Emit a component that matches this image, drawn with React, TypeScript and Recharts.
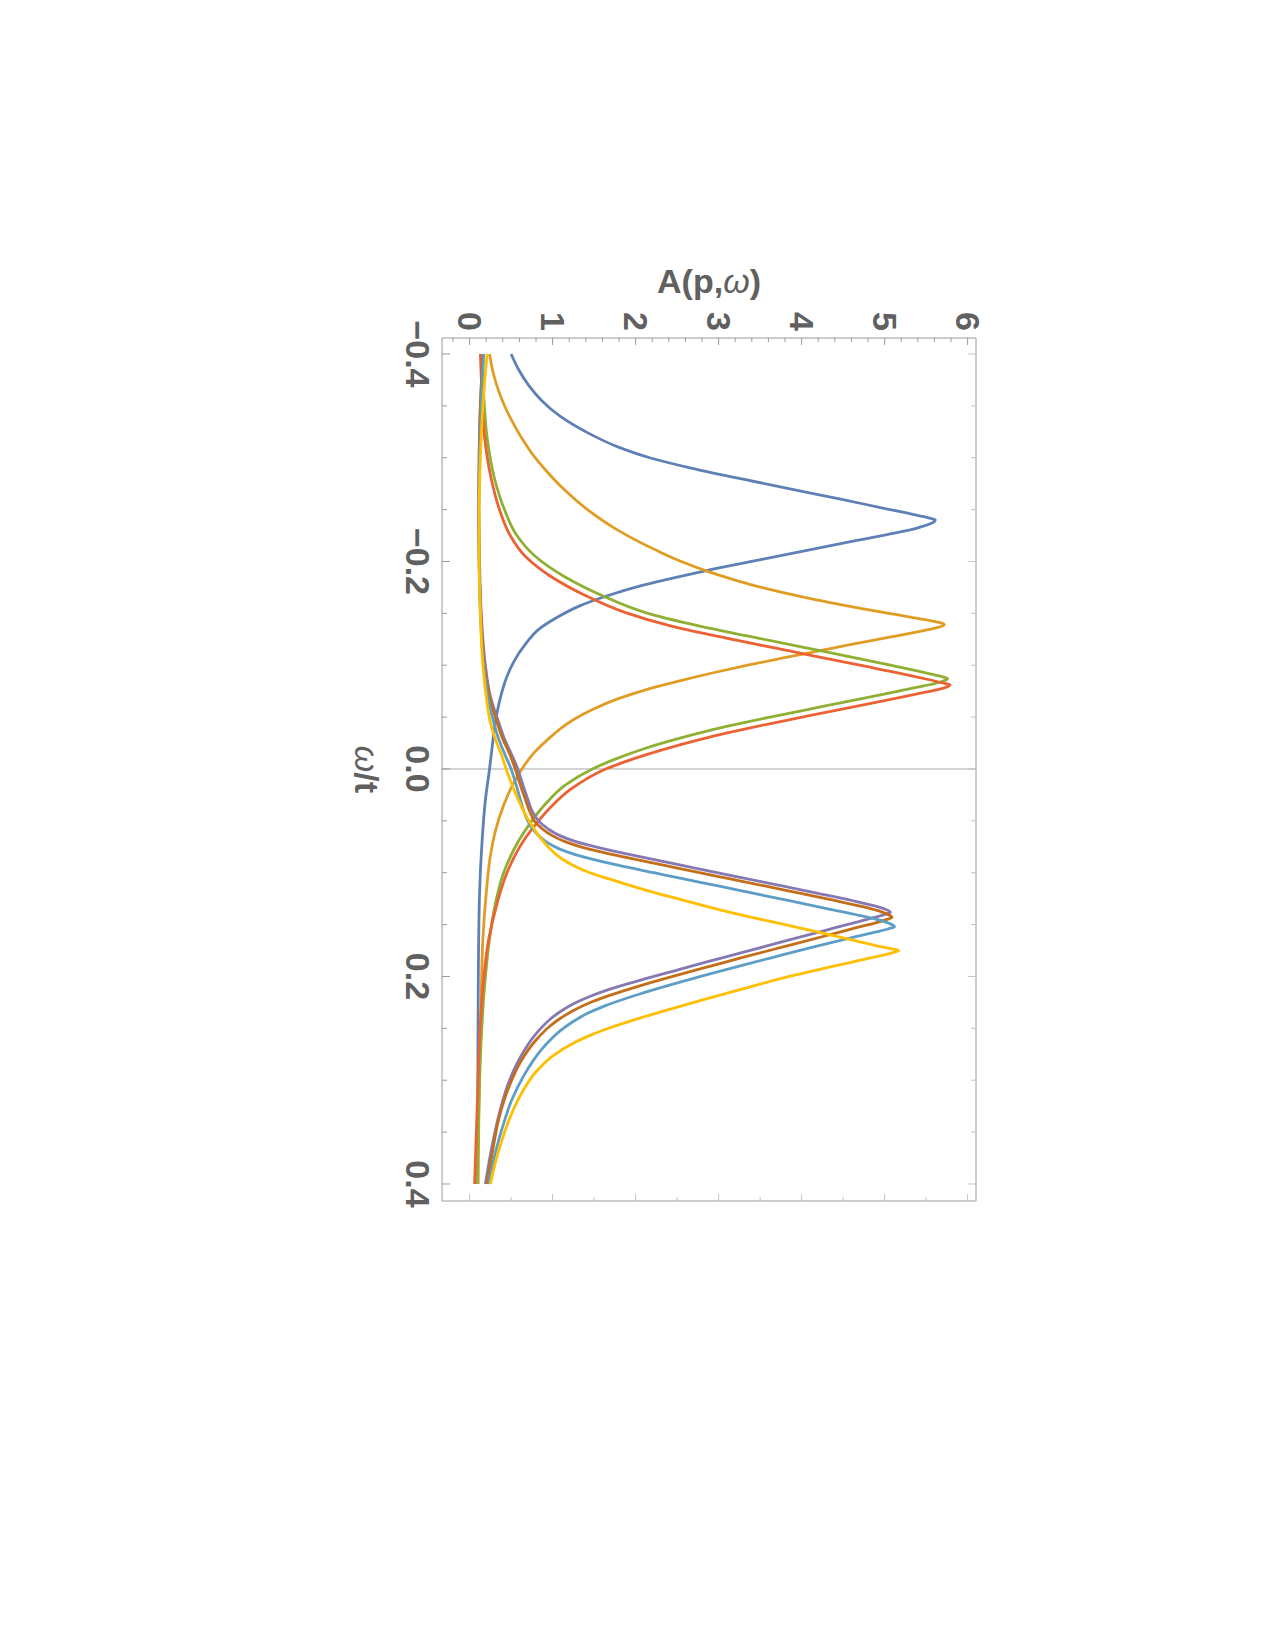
import React from 'react';
import { LineChart, Line, XAxis, YAxis, ReferenceLine } from 'recharts';

type Pt = [number, number];

// ω/t , A(p,ω) pairs
const blue: Pt[] = [
  [-0.4, 0.5], [-0.385, 0.59], [-0.37, 0.71], [-0.355, 0.87], [-0.34, 1.09], [-0.325, 1.4], [-0.31, 1.8],
  [-0.3, 2.17], [-0.29, 2.67], [-0.28, 3.25], [-0.27, 3.86], [-0.26, 4.47], [-0.252, 4.95], [-0.247, 5.25],
  [-0.244, 5.42], [-0.242, 5.53], [-0.24, 5.61], [-0.237, 5.57], [-0.232, 5.38], [-0.226, 5.03], [-0.22, 4.65],
  [-0.212, 4.14], [-0.202, 3.52], [-0.193, 2.96], [-0.185, 2.5], [-0.177, 2.08], [-0.167, 1.66], [-0.157, 1.32],
  [-0.145, 1.03], [-0.135, 0.84], [-0.12, 0.67], [-0.103, 0.53], [-0.087, 0.44], [-0.07, 0.375], [-0.045, 0.31],
  [-0.02, 0.27], [0.0, 0.24], [0.03, 0.19], [0.07, 0.15], [0.12, 0.12], [0.2, 0.105], [0.3, 0.1], [0.4, 0.1],
];

const orange: Pt[] = [
  [-0.4, 0.24], [-0.38, 0.29], [-0.36, 0.37], [-0.34, 0.48], [-0.32, 0.62], [-0.3, 0.79], [-0.285, 0.95],
  [-0.27, 1.13], [-0.25, 1.42], [-0.23, 1.79], [-0.21, 2.27], [-0.2, 2.55], [-0.191, 2.85], [-0.183, 3.16],
  [-0.177, 3.42], [-0.17, 3.78], [-0.164, 4.12], [-0.158, 4.5], [-0.154, 4.76], [-0.15, 5.05], [-0.146, 5.34],
  [-0.143, 5.55], [-0.141, 5.67], [-0.139, 5.72], [-0.136, 5.62], [-0.132, 5.38], [-0.127, 5.06], [-0.12, 4.6],
  [-0.114, 4.22], [-0.107, 3.78], [-0.1, 3.35], [-0.093, 2.95], [-0.085, 2.53], [-0.077, 2.15], [-0.068, 1.8],
  [-0.058, 1.5], [-0.047, 1.24], [-0.038, 1.08], [-0.029, 0.95], [-0.015, 0.77], [0.0, 0.63], [0.015, 0.52],
  [0.035, 0.41], [0.06, 0.31], [0.084, 0.25], [0.12, 0.2], [0.164, 0.16], [0.22, 0.14], [0.29, 0.12], [0.4, 0.1],
];

const green: Pt[] = [
  [-0.4, 0.15], [-0.36, 0.17], [-0.32, 0.21], [-0.28, 0.3], [-0.25, 0.42], [-0.225, 0.57], [-0.205, 0.79],
  [-0.186, 1.13], [-0.167, 1.6], [-0.151, 2.11], [-0.138, 2.76], [-0.128, 3.36], [-0.114, 4.22], [-0.1, 5.07],
  [-0.094, 5.42], [-0.09, 5.64], [-0.087, 5.76], [-0.084, 5.68], [-0.08, 5.47], [-0.075, 5.17], [-0.068, 4.74],
  [-0.06, 4.24], [-0.052, 3.74], [-0.045, 3.32], [-0.038, 2.93], [-0.029, 2.5], [-0.02, 2.12], [-0.01, 1.77],
  [0.0, 1.48], [0.015, 1.16], [0.035, 0.9], [0.05, 0.75], [0.068, 0.6], [0.1, 0.41], [0.13, 0.31], [0.164, 0.24],
  [0.21, 0.18], [0.26, 0.14], [0.33, 0.11], [0.4, 0.09],
];

const red: Pt[] = [
  [-0.4, 0.13], [-0.36, 0.15], [-0.32, 0.18], [-0.28, 0.26], [-0.25, 0.36], [-0.225, 0.49], [-0.205, 0.67],
  [-0.186, 0.97], [-0.167, 1.4], [-0.151, 1.87], [-0.138, 2.42], [-0.128, 2.98], [-0.114, 3.84], [-0.1, 4.7],
  [-0.092, 5.2], [-0.086, 5.54], [-0.083, 5.7], [-0.081, 5.79], [-0.078, 5.71], [-0.074, 5.49], [-0.069, 5.19],
  [-0.062, 4.76], [-0.054, 4.26], [-0.046, 3.76], [-0.039, 3.34], [-0.032, 2.95], [-0.023, 2.52], [-0.014, 2.14],
  [-0.004, 1.77], [0.0, 1.64], [0.01, 1.4], [0.02, 1.21], [0.035, 1.0], [0.05, 0.83], [0.068, 0.66], [0.1, 0.45],
  [0.13, 0.33], [0.164, 0.23], [0.21, 0.16], [0.26, 0.12], [0.33, 0.09], [0.4, 0.06],
];

const purple: Pt[] = [
  [-0.4, 0.16], [-0.35, 0.13], [-0.3, 0.115], [-0.25, 0.11], [-0.2, 0.12], [-0.15, 0.14], [-0.1, 0.19],
  [-0.07, 0.25], [-0.045, 0.35], [-0.029, 0.42], [-0.015, 0.5], [0.0, 0.58], [0.015, 0.64], [0.029, 0.7],
  [0.04, 0.75], [0.05, 0.83], [0.058, 0.95], [0.064, 1.08], [0.07, 1.28], [0.077, 1.62], [0.085, 2.08],
  [0.093, 2.56], [0.1, 2.98], [0.106, 3.35], [0.113, 3.78], [0.119, 4.14], [0.127, 4.62], [0.132, 4.88],
  [0.135, 5.0], [0.138, 5.07], [0.14, 5.01], [0.143, 4.88], [0.148, 4.64], [0.155, 4.31], [0.165, 3.84],
  [0.1768, 3.29], [0.1855, 2.88], [0.1945, 2.47], [0.2026, 2.1], [0.2122, 1.69], [0.2195, 1.44], [0.2267, 1.24],
  [0.234, 1.09], [0.2412, 0.97], [0.2573, 0.78], [0.2767, 0.62], [0.3024, 0.47], [0.3314, 0.36], [0.3636, 0.27],
  [0.4, 0.19],
];

const brown: Pt[] = [
  [-0.4, 0.16], [-0.35, 0.13], [-0.3, 0.115], [-0.25, 0.11], [-0.2, 0.115], [-0.15, 0.135], [-0.1, 0.18],
  [-0.07, 0.24], [-0.045, 0.33], [-0.029, 0.4], [-0.015, 0.48], [0.0, 0.55], [0.015, 0.61], [0.029, 0.67],
  [0.04, 0.72], [0.05, 0.78], [0.058, 0.88], [0.064, 0.99], [0.07, 1.15], [0.077, 1.43], [0.085, 1.87],
  [0.093, 2.35], [0.1, 2.77], [0.106, 3.14], [0.113, 3.57], [0.119, 3.93], [0.127, 4.41], [0.133, 4.75],
  [0.138, 4.97], [0.141, 5.06], [0.143, 5.09], [0.145, 5.03], [0.148, 4.9], [0.153, 4.66], [0.161, 4.28],
  [0.171, 3.8], [0.1816, 3.29], [0.1905, 2.88], [0.1994, 2.47], [0.209, 2.05], [0.2187, 1.67], [0.2255, 1.44],
  [0.2332, 1.24], [0.2405, 1.09], [0.2477, 0.97], [0.2622, 0.79], [0.2815, 0.62], [0.3073, 0.47], [0.3346, 0.36],
  [0.3668, 0.28], [0.4, 0.21],
];

const lightBlue: Pt[] = [
  [-0.4, 0.17], [-0.35, 0.14], [-0.3, 0.12], [-0.25, 0.11], [-0.2, 0.115], [-0.15, 0.13], [-0.1, 0.17],
  [-0.07, 0.22], [-0.045, 0.29], [-0.029, 0.35], [-0.015, 0.42], [0.0, 0.5], [0.015, 0.56], [0.029, 0.61],
  [0.04, 0.65], [0.05, 0.7], [0.058, 0.76], [0.064, 0.83], [0.07, 0.92], [0.077, 1.08], [0.085, 1.38],
  [0.093, 1.8], [0.1, 2.22], [0.106, 2.58], [0.113, 3.01], [0.119, 3.37], [0.127, 3.85], [0.135, 4.33],
  [0.141, 4.69], [0.146, 4.95], [0.149, 5.06], [0.152, 5.12], [0.154, 5.05], [0.157, 4.9], [0.162, 4.63],
  [0.17, 4.22], [0.179, 3.78], [0.1897, 3.26], [0.1985, 2.85], [0.2074, 2.45], [0.2171, 2.04], [0.2283, 1.63],
  [0.236, 1.41], [0.2444, 1.23], [0.2525, 1.09], [0.2605, 0.98], [0.27, 0.87], [0.283, 0.75], [0.296, 0.65],
  [0.3185, 0.51], [0.3443, 0.4], [0.37, 0.31], [0.4, 0.23],
];

const yellow: Pt[] = [
  [-0.4, 0.21], [-0.35, 0.16], [-0.3, 0.13], [-0.25, 0.115], [-0.2, 0.115], [-0.15, 0.13], [-0.1, 0.16],
  [-0.07, 0.2], [-0.045, 0.25], [-0.029, 0.31], [-0.01, 0.4], [0.0, 0.44], [0.019, 0.53], [0.048, 0.7],
  [0.065, 0.84], [0.077, 0.97], [0.087, 1.12], [0.093, 1.25], [0.1, 1.45], [0.106, 1.68], [0.117, 2.13],
  [0.126, 2.55], [0.135, 2.98], [0.143, 3.4], [0.15, 3.8], [0.158, 4.24], [0.166, 4.67], [0.17, 4.88],
  [0.173, 5.06], [0.175, 5.17], [0.177, 5.1], [0.18, 4.95], [0.185, 4.67], [0.192, 4.28], [0.2, 3.85],
  [0.2122, 3.28], [0.2219, 2.84], [0.23, 2.48], [0.2396, 2.07], [0.2509, 1.64], [0.2575, 1.43], [0.2638, 1.26],
  [0.2767, 1.0], [0.2928, 0.79], [0.3121, 0.63], [0.3314, 0.51], [0.354, 0.405], [0.3765, 0.32], [0.4, 0.25],
];

const SERIES_NAMES = ['blue', 'orange', 'green', 'red', 'purple', 'brown', 'lightBlue', 'yellow'];
const SERIES_COLORS = ['#5E81B5', '#E19C24', '#8FB032', '#EB6235', '#8778B3', '#C56E1A', '#5D9EC7', '#FFBF00'];
const SERIES_POINTS = [blue, orange, green, red, purple, brown, lightBlue, yellow];

const W_TICKS = [-0.4, -0.35, -0.3, -0.25, -0.2, -0.15, -0.1, -0.05, 0, 0.05, 0.1, 0.15, 0.2, 0.25, 0.3, 0.35, 0.4];
const W_LABEL_VALUES = [-0.4, -0.2, 0, 0.2, 0.4];
const W_LABELS = ['\u22120.4', '\u22120.2', '0.0', '0.2', '0.4'];
const A_TICKS = [-0.2, 0, 0.2, 0.4, 0.6, 0.8, 1, 1.2, 1.4, 1.6, 1.8, 2, 2.2, 2.4, 2.6, 2.8, 3, 3.2, 3.4, 3.6, 3.8,
  4, 4.2, 4.4, 4.6, 4.8, 5, 5.2, 5.4, 5.6, 5.8, 6];
const A_LABEL_VALUES = [0, 1, 2, 3, 4, 5, 6];
const A_LABELS = ['0', '1', '2', '3', '4', '5', '6'];
const A_MIRROR_TICKS = [0, 0.5, 1, 1.5, 2, 2.5, 3, 3.5, 4, 4.5, 5, 5.5, 6];
const W_DOMAIN: [number, number] = [-0.4154, 0.4164];
const A_DOMAIN: [number, number] = [-0.3325, 6.101];

const CHART_W = 963;
const CHART_H = 654;
const PLOT_LEFT = 90;
const PLOT_TOP = 10;
const PLOT_W = 863;
const PLOT_H = 534;

const FONT = "'Liberation Sans', Arial, sans-serif";
const TEXT = '#606060';
const FRAME = '#9a9a9a';
const MIRROR = '#c2c2c2';
const FS = 34;

const near = (a: number, b: number) => Math.abs(a - b) < 1e-6;
const labelOf = (vals: number[], labels: string[], v: number) => {
  const i = vals.findIndex((t) => near(t, v));
  return i >= 0 ? labels[i] : null;
};

const WTick = (props: any) => {
  const { x, y, payload } = props;
  const lab = labelOf(W_LABEL_VALUES, W_LABELS, payload.value);
  const len = lab ? 8 : 5;
  return (
    <g>
      <line x1={x} y1={y} x2={x} y2={y - len} stroke={FRAME} strokeWidth={1} />
      {lab && (
        <text x={x} y={y + 36} textAnchor="middle" fontFamily={FONT} fontWeight="bold" fontSize={FS} fill={TEXT}>
          {lab}
        </text>
      )}
    </g>
  );
};

const WMirrorTick = (props: any) => {
  const { x, y, payload } = props;
  const major = labelOf(W_LABEL_VALUES, W_LABELS, payload.value) !== null;
  const len = major ? 8 : 5;
  return <line x1={x} y1={y} x2={x} y2={y + len} stroke={MIRROR} strokeWidth={1} />;
};

const ATick = (props: any) => {
  const { x, y, payload } = props;
  const lab = labelOf(A_LABEL_VALUES, A_LABELS, payload.value);
  const len = lab ? 7 : 4;
  return (
    <g>
      <line x1={x} y1={y} x2={x + len} y2={y} stroke={FRAME} strokeWidth={1} />
      {lab && (
        <text x={x - 7} y={y + 12} textAnchor="end" fontFamily={FONT} fontWeight="bold" fontSize={FS} fill={TEXT}>
          {lab}
        </text>
      )}
    </g>
  );
};

const AMirrorTick = (props: any) => {
  const { x, y, payload } = props;
  const major = Number.isInteger(Math.round(payload.value * 1000) / 1000);
  const len = major ? 7 : 4;
  return <line x1={x} y1={y} x2={x - len} y2={y} stroke={MIRROR} strokeWidth={1} />;
};

const XTitle = () => (
  <text x={PLOT_LEFT + PLOT_W / 2} y={PLOT_TOP + PLOT_H + 87} textAnchor="middle" fontFamily={FONT}
    fontWeight="bold" fontSize={FS} fill={TEXT}>
    <tspan fontStyle="italic" fontWeight="normal">ω</tspan>/t
  </text>
);

const YTitle = () => {
  const x0 = PLOT_LEFT - 45;
  const y0 = PLOT_TOP + PLOT_H / 2;
  return (
    <text x={x0} y={y0} transform={`rotate(-90, ${x0}, ${y0})`} textAnchor="middle" fontFamily={FONT}
      fontWeight="bold" fontSize={FS} fill={TEXT}>
      A(p,<tspan fontStyle="italic" fontWeight="normal">ω</tspan>)
    </text>
  );
};

export default function App() {
  return (
    <div style={{ position: 'relative', width: 1259, height: 1634, overflow: 'hidden', background: '#fff' }}>
      <div
        style={{
          position: 'absolute',
          left: 977.7,
          top: 240.3,
          width: CHART_W,
          height: CHART_H,
          transformOrigin: '0 0',
          transform: 'rotate(90deg)',
        }}
      >
        <LineChart width={CHART_W} height={CHART_H} margin={{ top: 9, right: 9, bottom: 10, left: 10 }}>
          <XAxis
            xAxisId="main"
            dataKey="w"
            type="number"
            domain={W_DOMAIN}
            allowDataOverflow
            ticks={W_TICKS}
            interval={0}
            tick={WTick}
            tickLine={false}
            tickSize={0}
            tickMargin={0}
            axisLine={{ stroke: FRAME, strokeWidth: 1 }}
            height={100}
            label={XTitle}
          />
          <XAxis
            xAxisId="mirror"
            orientation="top"
            dataKey="w"
            type="number"
            domain={W_DOMAIN}
            allowDataOverflow
            ticks={W_TICKS}
            interval={0}
            tick={WMirrorTick}
            tickLine={false}
            tickSize={0}
            tickMargin={0}
            axisLine={{ stroke: FRAME, strokeWidth: 1 }}
            height={1}
          />
          <YAxis
            yAxisId="main"
            type="number"
            domain={A_DOMAIN}
            allowDataOverflow
            ticks={A_TICKS}
            interval={0}
            tick={ATick}
            tickLine={false}
            tickSize={0}
            tickMargin={0}
            axisLine={{ stroke: FRAME, strokeWidth: 1 }}
            width={80}
            label={YTitle}
          />
          <YAxis
            yAxisId="mirror"
            orientation="right"
            type="number"
            domain={A_DOMAIN}
            allowDataOverflow
            ticks={A_MIRROR_TICKS}
            interval={0}
            tick={AMirrorTick}
            tickLine={false}
            tickSize={0}
            tickMargin={0}
            axisLine={{ stroke: FRAME, strokeWidth: 1 }}
            width={1}
          />
          <ReferenceLine xAxisId="main" yAxisId="main" x={0} stroke="#a8a8a8" strokeWidth={1} />
          {SERIES_POINTS.map((pts, i) => (
            <Line
              key={SERIES_NAMES[i]}
              xAxisId="main"
              yAxisId="main"
              name={SERIES_NAMES[i]}
              data={pts.map(([w, a]) => ({ w, a }))}
              dataKey="a"
              type="monotone"
              stroke={SERIES_COLORS[i]}
              strokeWidth={2.8}
              dot={false}
              activeDot={false}
              isAnimationActive={false}
            />
          ))}
        </LineChart>
      </div>
    </div>
  );
}
